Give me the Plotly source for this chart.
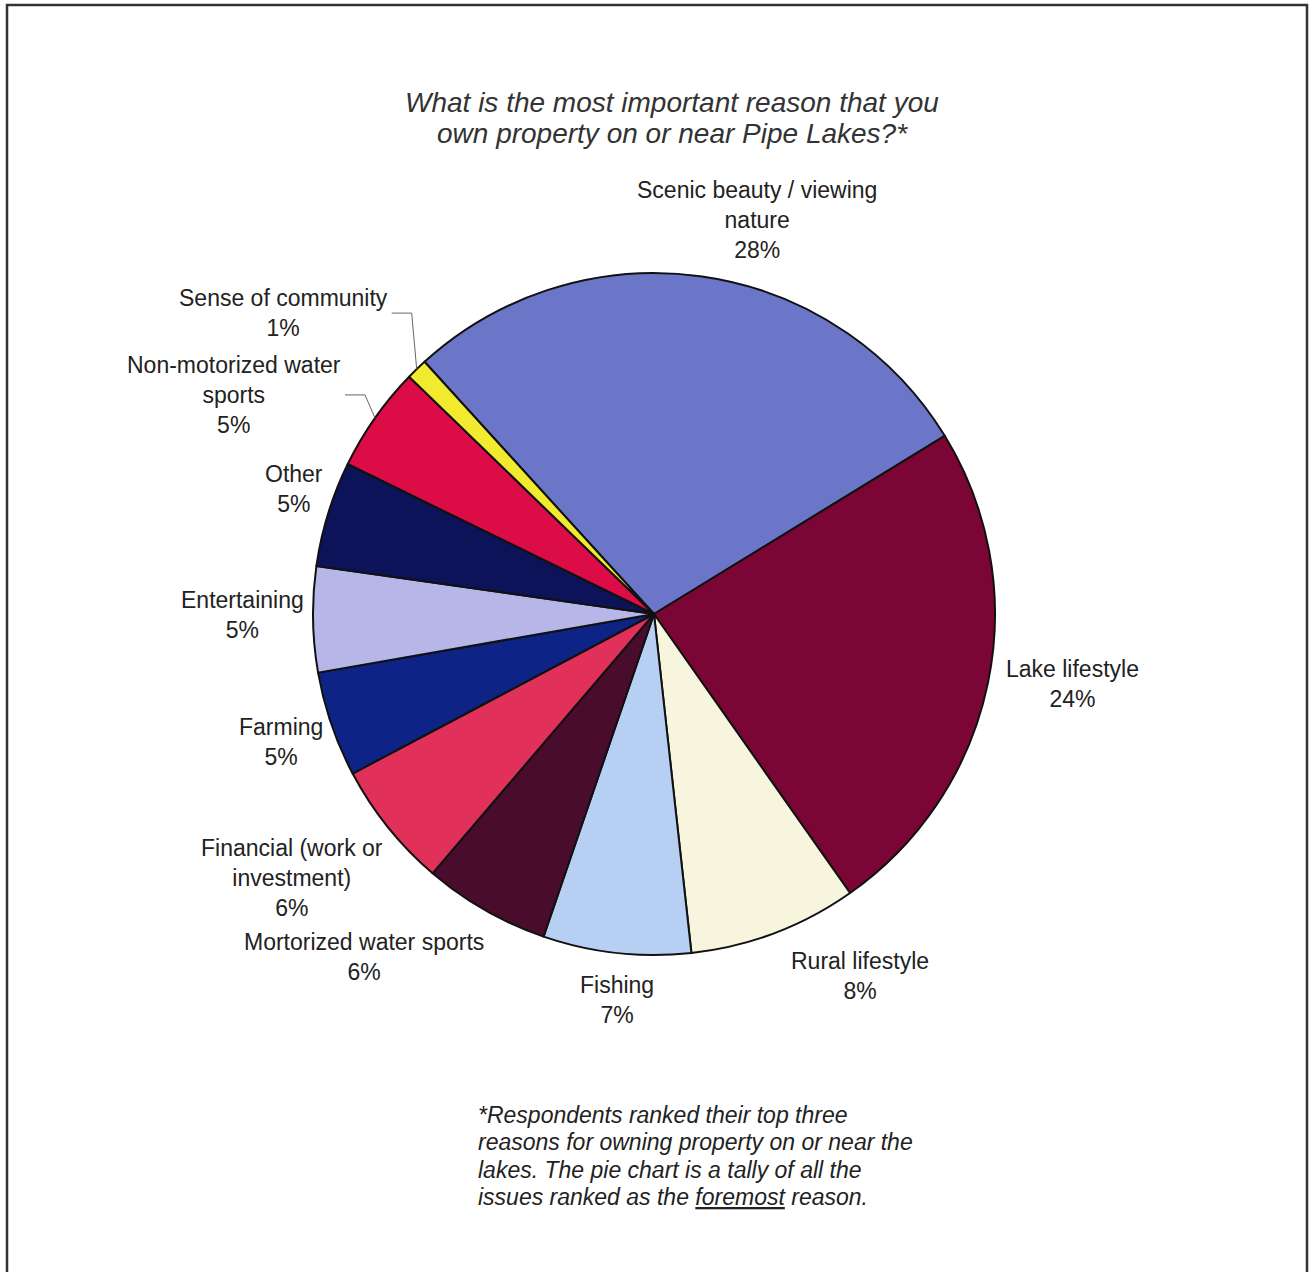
import math
import plotly.graph_objects as go

# ---- data ----
categories = [
    "Scenic beauty / viewing<br>nature",
    "Lake lifestyle",
    "Rural lifestyle",
    "Fishing",
    "Mortorized water sports",
    "Financial (work or<br>investment)",
    "Farming",
    "Entertaining",
    "Other",
    "Non-motorized water<br>sports",
    "Sense of community",
]
values = [28, 24, 8, 7, 6, 6, 5, 5, 5, 5, 1]
colors = ["#6B76C9", "#7B0636", "#F8F5DE", "#B7CFF2", "#4A0C2D", "#E1315B",
          "#0D2386", "#B6B7E8", "#0C1358", "#DC0C46", "#F2EA2E"]

title_lines = ["What is the most important reason that you",
               "own property on or near Pipe Lakes?*"]
note_lines = ["*Respondents ranked their top three",
              "reasons for owning property on or near the",
              "lakes. The pie chart is a tally of all the",
              "issues ranked as the <u>foremost</u> reason."]

# ---- layout geometry (pixels) ----
W, H = 1313, 1272
CX, CY, R = 654, 614, 341
ROT = -42.3
GAP = 15
FONT = "Liberation Sans, Arial, sans-serif"
LABEL_SIZE = 23

# label nudges (px) and which labels use leader lines (elbow offset from slice edge)
nudges = {0: (53, 3), 1: (1, -2), 2: (9, -1), 3: (2, 2), 4: (8, 4), 5: (9, -4),
          6: (8, -17), 7: (8, -5), 8: (11, 10)}
leader = {9: (-10, -23), 10: (-5, -56)}


def paper(x, y):
    return x / W, 1 - y / H


fig = go.Figure()
fig.add_trace(go.Pie(
    labels=[c.replace("<br>", " ") for c in categories],
    values=values,
    sort=False,
    direction="clockwise",
    rotation=ROT,
    textinfo="none",
    hoverinfo="skip",
    marker=dict(colors=colors, line=dict(color="#111111", width=2)),
    domain=dict(x=[(CX - R) / W, (CX + R) / W], y=[1 - (CY + R) / H, 1 - (CY - R) / H]),
    showlegend=False,
))

annotations = []
shapes = []
total = sum(values)
cum = 0
for i, (lab, v) in enumerate(zip(categories, values)):
    mid = ROT + (cum + v / 2) / total * 360
    cum += v
    a = math.radians(mid)
    sx, sy = math.sin(a), -math.cos(a)
    text = f"{lab}<br>{v}%"
    lfont = dict(family=FONT, size=LABEL_SIZE, color="#222222")
    if i in leader:
        ex, ey = CX + R * sx, CY + R * sy
        dx, dy = leader[i]
        ex0, ey0 = paper(ex, ey)
        e1x, e1y = paper(ex + dx, ey + dy)
        e2x, e2y = paper(ex + dx - 20, ey + dy)
        shapes.append(dict(type="path", xref="paper", yref="paper",
                           path=f"M {ex0} {ey0} L {e1x} {e1y} L {e2x} {e2y}",
                           line=dict(color="#666666", width=1)))
        ax, ay = paper(ex + dx - 22, ey + dy)
        annotations.append(dict(x=ax, y=ay, xref="paper", yref="paper", text=text,
                                showarrow=False, xanchor="right", yanchor="middle",
                                align="center", font=lfont))
        continue
    px = CX + (R + GAP) * sx
    py = CY + (R + GAP) * sy
    xa = "left" if sx > 0.25 else ("right" if sx < -0.25 else "center")
    ya = "top" if sy > 0.25 else ("bottom" if sy < -0.25 else "middle")
    ndx, ndy = nudges.get(i, (0, 0))
    ax, ay = paper(px + ndx, py + ndy)
    annotations.append(dict(x=ax, y=ay, xref="paper", yref="paper", text=text,
                            showarrow=False, xanchor=xa, yanchor=ya, align="center",
                            font=lfont))

for k, line in enumerate(title_lines):
    tx, ty = paper(672, 102 + 31 * k)
    annotations.append(dict(x=tx, y=ty, xref="paper", yref="paper", text=line,
                            showarrow=False, xanchor="center", yanchor="middle",
                            font=dict(family=FONT, size=28, color="#333333", style="italic")))
for k, line in enumerate(note_lines):
    nx, ny = paper(476, 1115 + 27.4 * k)
    annotations.append(dict(x=nx, y=ny, xref="paper", yref="paper", text=line,
                            showarrow=False, xanchor="left", yanchor="middle", align="left",
                            font=dict(family=FONT, size=23, color="#222222", style="italic")))

bx0, by0 = paper(7, 5)
bx1, by1 = paper(1307, 1290)
shapes.append(dict(type="rect", xref="paper", yref="paper", x0=bx0, y0=by1, x1=bx1, y1=by0,
                   line=dict(color="#333333", width=2.5)))

fig.update_layout(
    width=W, height=H,
    margin=dict(l=0, r=0, t=0, b=0),
    paper_bgcolor="white", plot_bgcolor="white",
    annotations=annotations, shapes=shapes,
)
fig.write_html("out.html", config={"displayModeBar": False},
               post_script="document.body.style.margin='0px';")
